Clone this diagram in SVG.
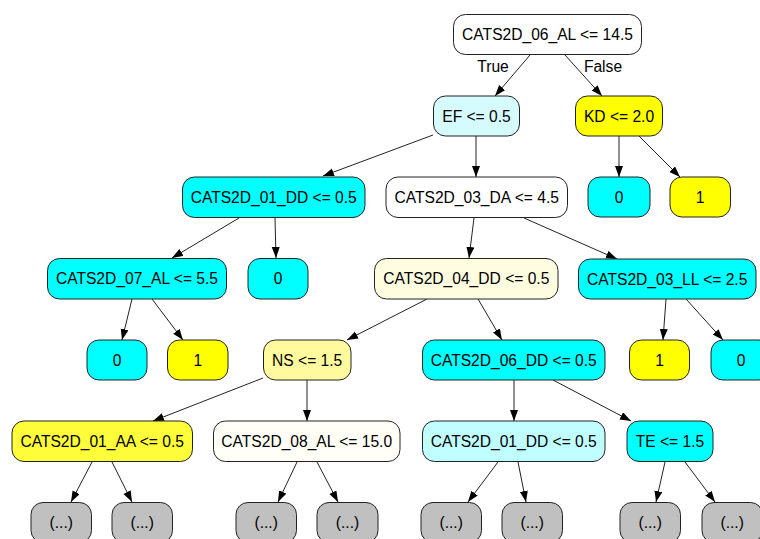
<svg xmlns="http://www.w3.org/2000/svg" width="760" height="539" viewBox="0 0 760 539">
<defs>
<style>
.n rect{stroke:#222;stroke-width:1}
text{font-family:"Liberation Sans",Arial,sans-serif;font-size:15.6px;fill:#000;text-anchor:middle}
.e line{stroke:#222;stroke-width:1;marker-end:url(#ah)}
.w{fill:#ffffff}.c{fill:#00ffff}.y{fill:#ffff00}.g{fill:#c0c0c0}
</style>
<marker id="ah" markerUnits="userSpaceOnUse" markerWidth="12" markerHeight="9" refX="11" refY="4" orient="auto" viewBox="0 0 12 9">
<path d="M0,0 L11,4 L0,8 Z" fill="#000"/>
</marker>
</defs>
<g class="e" id="edges">
<line x1="530" y1="55" x2="495" y2="96"/>
<line x1="565" y1="55" x2="602" y2="96"/>
<line x1="433" y1="135" x2="323" y2="176"/>
<line x1="476" y1="136" x2="476" y2="177"/>
<line x1="619" y1="136" x2="619" y2="177"/>
<line x1="639" y1="136" x2="680" y2="177"/>
<line x1="239" y1="218" x2="172" y2="258"/>
<line x1="275" y1="218" x2="276" y2="258"/>
<line x1="474" y1="218" x2="469" y2="258"/>
<line x1="524" y1="218" x2="617" y2="259"/>
<line x1="132" y1="299" x2="122" y2="340"/>
<line x1="152" y1="299" x2="183" y2="340"/>
<line x1="427" y1="299" x2="347" y2="340"/>
<line x1="478" y1="299" x2="502" y2="340"/>
<line x1="666" y1="299" x2="663" y2="340"/>
<line x1="686" y1="299" x2="723" y2="340"/>
<line x1="263" y1="378" x2="153" y2="421"/>
<line x1="307" y1="380" x2="307" y2="421"/>
<line x1="514" y1="380" x2="514" y2="421"/>
<line x1="553" y1="380" x2="631" y2="421"/>
<line x1="92" y1="462" x2="71" y2="502"/>
<line x1="112" y1="462" x2="132" y2="502"/>
<line x1="297" y1="462" x2="278" y2="502"/>
<line x1="317" y1="462" x2="338" y2="502"/>
<line x1="498" y1="462" x2="468" y2="502"/>
<line x1="518" y1="462" x2="526" y2="502"/>
<line x1="665" y1="462" x2="656" y2="502"/>
<line x1="685" y1="462" x2="715" y2="502"/>
</g>
<g id="edge-labels">
<text x="493" y="72">True</text>
<text x="603" y="72">False</text>
</g>
<g class="n" id="n0"><rect class="w" x="453.5" y="14.5" width="188" height="40" rx="12"/><text x="547.5" y="40">CATS2D_06_AL &lt;= 14.5</text></g>
<g class="n" id="n1"><rect x="433.5" y="96" width="86" height="40" rx="12" fill="#d6fbff"/><text x="476.5" y="121.5">EF &lt;= 0.5</text></g>
<g class="n" id="n2"><rect class="y" x="575.5" y="96" width="87" height="40" rx="12"/><text x="619" y="121.5">KD &lt;= 2.0</text></g>
<g class="n" id="n3"><rect class="c" x="182.5" y="177" width="182.5" height="40.5" rx="12"/><text x="273.7" y="202.5">CATS2D_01_DD &lt;= 0.5</text></g>
<g class="n" id="n4"><rect class="w" x="386" y="177" width="181.5" height="40.5" rx="12"/><text x="476.7" y="202.5">CATS2D_03_DA &lt;= 4.5</text></g>
<g class="n" id="n5"><rect class="c" x="588" y="177" width="62" height="40" rx="12"/><text x="619" y="202.5">0</text></g>
<g class="n" id="n6"><rect class="y" x="670" y="177" width="60.5" height="40" rx="12"/><text x="700.2" y="202.5">1</text></g>
<g class="n" id="n7"><rect class="c" x="47.5" y="258.5" width="179" height="40.5" rx="12"/><text x="137" y="284">CATS2D_07_AL &lt;= 5.5</text></g>
<g class="n" id="n8"><rect class="c" x="248" y="258.5" width="60" height="40.5" rx="12"/><text x="278" y="284">0</text></g>
<g class="n" id="n9"><rect x="374.5" y="258.5" width="183.5" height="40.5" rx="12" fill="#fffde0"/><text x="466.3" y="284">CATS2D_04_DD &lt;= 0.5</text></g>
<g class="n" id="n10"><rect class="c" x="578.5" y="259" width="177.5" height="40" rx="12"/><text x="667.2" y="284.5">CATS2D_03_LL &lt;= 2.5</text></g>
<g class="n" id="n11"><rect class="c" x="87" y="340" width="60" height="40" rx="12"/><text x="117" y="365.5">0</text></g>
<g class="n" id="n12"><rect class="y" x="167.5" y="340" width="60.5" height="40" rx="12"/><text x="197.8" y="365.5">1</text></g>
<g class="n" id="n13"><rect x="263.5" y="340" width="87.5" height="40" rx="12" fill="#fffa9e"/><text x="307.2" y="365.5">NS &lt;= 1.5</text></g>
<g class="n" id="n14"><rect class="c" x="422.5" y="340" width="182.5" height="40" rx="12"/><text x="513.7" y="365.5">CATS2D_06_DD &lt;= 0.5</text></g>
<g class="n" id="n15"><rect class="y" x="629.5" y="340" width="60" height="40" rx="12"/><text x="659.5" y="365.5">1</text></g>
<g class="n" id="n16"><rect class="c" x="711" y="340" width="60" height="40" rx="12"/><text x="741" y="365.5">0</text></g>
<g class="n" id="n17"><rect x="12" y="421" width="180.5" height="40.5" rx="12" fill="#fffd3a"/><text x="102.2" y="446.5">CATS2D_01_AA &lt;= 0.5</text></g>
<g class="n" id="n18"><rect x="213.5" y="421" width="186.5" height="40.5" rx="12" fill="#fffff7"/><text x="306.7" y="446.5">CATS2D_08_AL &lt;= 15.0</text></g>
<g class="n" id="n19"><rect x="422.5" y="421" width="182.5" height="40.5" rx="12" fill="#c0ffff"/><text x="513.7" y="446.5">CATS2D_01_DD &lt;= 0.5</text></g>
<g class="n" id="n20"><rect class="c" x="627" y="421" width="86" height="40.5" rx="12"/><text x="670" y="446.5">TE &lt;= 1.5</text></g>
<g class="n" id="n21"><rect class="g" x="31" y="502.5" width="60.5" height="40" rx="12"/><text x="61.3" y="528">(...)</text></g>
<g class="n" id="n22"><rect class="g" x="112" y="502.5" width="60.5" height="40" rx="12"/><text x="142.2" y="528">(...)</text></g>
<g class="n" id="n23"><rect class="g" x="236" y="502.5" width="60.5" height="40" rx="12"/><text x="266.2" y="528">(...)</text></g>
<g class="n" id="n24"><rect class="g" x="317" y="502.5" width="61" height="40" rx="12"/><text x="347.5" y="528">(...)</text></g>
<g class="n" id="n25"><rect class="g" x="421" y="502.5" width="60.5" height="40" rx="12"/><text x="451.2" y="528">(...)</text></g>
<g class="n" id="n26"><rect class="g" x="502" y="502.5" width="60.5" height="40" rx="12"/><text x="532.2" y="528">(...)</text></g>
<g class="n" id="n27"><rect class="g" x="620" y="502.5" width="60.5" height="40" rx="12"/><text x="650.2" y="528">(...)</text></g>
<g class="n" id="n28"><rect class="g" x="702" y="502.5" width="60.5" height="40" rx="12"/><text x="732.2" y="528">(...)</text></g>
</svg>
